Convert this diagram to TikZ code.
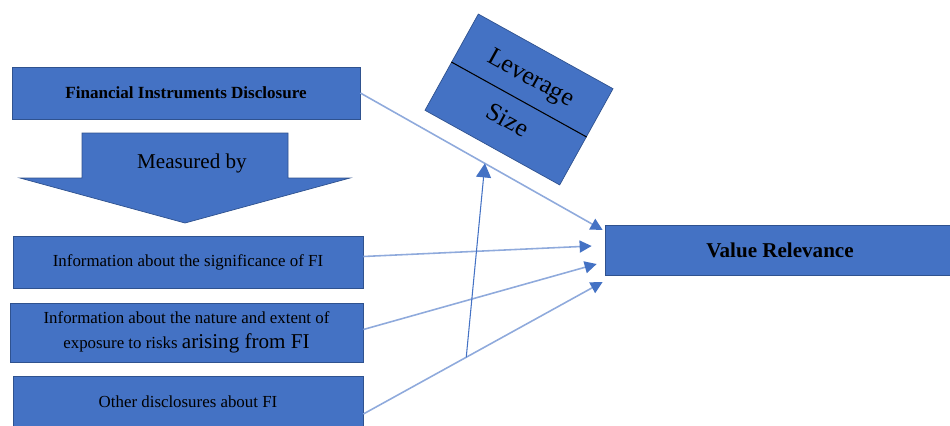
\documentclass[tikz,border=0pt]{standalone}
\usepackage{fontspec}
\setmainfont{Liberation Serif}
\usetikzlibrary{arrows.meta,calc}
\definecolor{boxblue}{HTML}{4472C4}
\definecolor{edgeblue}{HTML}{2F528F}
\definecolor{lineblue}{HTML}{8FAADC}

\begin{document}
\begin{tikzpicture}[x=0.2mm,y=-0.2mm,
    box/.style={draw=edgeblue, fill=boxblue, line width=0.4pt, inner sep=0pt,
        align=center, font=\fontsize{9.6}{14}\selectfont},
    link/.style={lineblue, line width=0.9pt,
        -{Triangle[length=2.4mm,width=2.4mm,color=boxblue]}},
    rise/.style={boxblue, line width=0.6pt,
        -{Triangle[length=2.8mm,width=3mm,color=boxblue]}}]
        \clip (0,0) rectangle (950,425);

        % Disclosure side
        \node[box, minimum width=69.6mm, minimum height=10.4mm, font=\fontsize{9.7}{12}\selectfont\bfseries]
            (fid) at (186,93) {Financial Instruments Disclosure};
        \draw[box] (82,133) -- (288,133) -- (288,178) -- (350,178) -- (185,223)
            -- (20,178) -- (82,178) -- cycle;
        \node[font=\fontsize{12}{14}\selectfont] (meas) at (192,163) {Measured by};
        \node[box, minimum width=70mm, minimum height=10.4mm] (sig) at (188,262.5)
            {Information about the significance of FI};
        \node[box, minimum width=70.6mm, minimum height=11.8mm] (nat) at (186.5,332.5)
            {Information about the nature and extent of\\exposure to risks {\fontsize{12}{14}\selectfont arising from FI}};
        \node[box, minimum width=70mm, minimum height=10.4mm] (oth) at (188,402)
            {Other disclosures about FI};

        % Outcome
        \node[box, minimum width=70mm, minimum height=10mm, font=\fontsize{12}{14}\selectfont\bfseries]
            (vr) at (780,250) {Value Relevance};

        % Controls
        \node[box, rotate=-29, minimum width=30.8mm, minimum height=22mm] (ctl) at (519,99.5) {};
        \draw[line width=0.6pt] (ctl.west) -- (ctl.east);
        \node[rotate=-29, inner sep=0pt, font=\fontsize{14.5}{17}\selectfont] (lev) at ($(ctl.center)!0.42!(ctl.north)$) {Leverage};
        \node[rotate=-29, inner sep=0pt, font=\fontsize{14.5}{17}\selectfont] (size) at ($(ctl.center)!0.42!(ctl.south)$) {Size};

        % Links
        \coordinate (vr1) at ([shift={(-2,-20)}]vr.west);
        \coordinate (vr2) at ([shift={(-13,-4)}]vr.west);
        \coordinate (vr3) at ([shift={(-8,14)}]vr.west);
        \coordinate (vr4) at ([shift={(-2,32)}]vr.west);
        \draw[link] (fid.east) -- coordinate[pos=0.514] (hi) (vr1);
        \draw[link] ([shift={(0,-6)}]sig.east) -- (vr2);
        \draw[link] ([shift={(0,-3)}]nat.east) -- (vr3);
        \draw[link] ([shift={(0,12)}]oth.east) -- coordinate[pos=0.43] (lo) (vr4);
        \draw[rise] (lo) -- (hi);
    \end{tikzpicture}
\end{document}
